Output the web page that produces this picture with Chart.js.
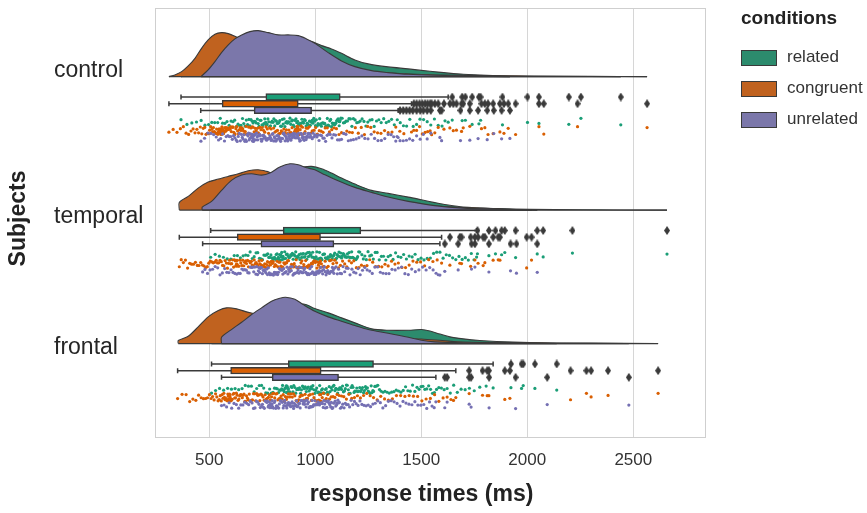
<!DOCTYPE html>
<html><head><meta charset="utf-8">
<script src="https://cdn.jsdelivr.net/npm/chart.js@4.4.1/dist/chart.umd.min.js"></script>
<style>html,body{margin:0;padding:0;background:#fff}#wrap{width:867px;height:513px;position:relative}</style>
</head><body><div id="wrap"><canvas id="c"></canvas></div>
<script>
// ---------------- DATA ----------------
const SUBJECTS = ['control', 'temporal', 'frontal'];
const CONDITIONS = ['related', 'congruent', 'unrelated'];
const X_TICKS = [500, 1000, 1500, 2000, 2500];

// half-violin density outlines: [response time (ms), relative density]
const V_CONTROL_RELATED = [[367,0],[450,3],[550,10],[650,22],[750,33],[850,39],[930,38],[983,35],[1030,31],[1077,27.7],[1124,23.3],[1187,16.7],[1250,12.7],[1344,9.7],[1439,7.7],[1541,5.3],[1619,3.7],[1698,2.3],[1808,1.2],[1918,0.6],[2150,0.3],[2441,0]];
const V_CONTROL_CONGRUENT = [[310,0],[338,1.7],[370,5],[401,10.7],[433,18.3],[464,28.3],[495,36.7],[527,42.3],[558,44],[590,43],[621,40.3],[653,36.7],[700,31],[800,22],[900,15],[1000,10],[1100,7],[1200,5],[1400,3],[1600,1.5],[2000,0.6],[2300,0.3],[2565,0]];
const V_CONTROL_UNRELATED = [[461,0],[495,6.7],[527,15],[558,24],[590,31.7],[621,37.7],[653,41.7],[692,45],[731,46],[778,44],[826,41.7],[873,41.7],[920,41],[959,37.7],[998,33.3],[1061,24],[1124,15.7],[1187,10],[1266,6],[1344,4],[1439,2.3],[1564,1.3],[1750,0.5],[1918,0]];
const V_TEMPORAL_RELATED = [[507,0],[507,2],[600,8],[700,18],[800,30],[880,40],[943,43],[983,43.7],[1030,41.3],[1077,37],[1124,32],[1187,26],[1266,19.7],[1344,16.7],[1439,13],[1501,10.3],[1564,7.5],[1619,5.3],[1698,3],[1855,1.5],[2012,0.7],[2248,0.3],[2659,0]];
const V_TEMPORAL_CONGRUENT = [[359,0],[359,7.7],[401,13.7],[448,22],[495,28],[543,31],[590,33.7],[637,36.3],[684,39.3],[731,40.3],[771,38.7],[794,37],[850,34],[950,29],[1050,23],[1150,17],[1250,12],[1350,8.5],[1450,6],[1600,3.5],[1800,1.8],[2020,0]];
const V_TEMPORAL_UNRELATED = [[467,0],[467,3],[511,8.7],[558,19.7],[605,29.7],[653,35],[700,36.3],[747,35],[786,37],[833,43],[881,46.3],[920,45.3],[959,42.3],[998,40.3],[1046,35.3],[1108,29.3],[1187,22.7],[1266,17.7],[1344,13],[1439,8.7],[1564,4.5],[1698,2],[1855,1],[2047,0]];
const V_FRONTAL_RELATED = [[511,0],[511,2],[600,6],[700,14],[800,24],[880,33],[943,39.5],[998,35],[1061,30.7],[1124,25.7],[1187,20.7],[1266,14.7],[1344,13.3],[1439,13.3],[1501,14],[1541,12.5],[1588,9.5],[1635,6.7],[1698,4.7],[1776,3],[1855,2],[2012,1],[2139,0]];
const V_FRONTAL_CONGRUENT = [[354,0],[354,3],[401,7.3],[448,16.7],[495,26.7],[543,33],[582,35.7],[629,34.7],[676,31.7],[716,29.7],[800,25],[900,19],[1000,14],[1100,10],[1200,7.5],[1300,6],[1400,5],[1500,4.5],[1600,3],[1700,1.5],[2000,0.8],[2300,0.5],[2617,0]];
const V_FRONTAL_UNRELATED = [[558,0],[558,6.3],[605,14],[653,21.3],[700,29],[747,35.7],[794,42.3],[833,45.3],[860,46.3],[904,44.3],[943,39],[998,32.3],[1061,26.7],[1124,22.3],[1187,18],[1250,14],[1344,10.3],[1439,6.3],[1501,3.3],[1564,1.7],[1700,0.8],[2000,0.4],[2479,0]];

// box statistics: [lower whisker, Q1, Q3, upper whisker] (ms)
const BOX_CONTROL_RELATED = [367, 767, 1118, 1627];
const BOX_CONTROL_CONGRUENT = [310, 561, 920, 1454];
const BOX_CONTROL_UNRELATED = [460, 712, 983, 1391];
const BOX_TEMPORAL_RELATED = [507, 849, 1215, 1761];
const BOX_TEMPORAL_CONGRUENT = [359, 632, 1025, 1596];
const BOX_TEMPORAL_UNRELATED = [469, 744, 1088, 1588];
const BOX_FRONTAL_RELATED = [511, 873, 1275, 1839];
const BOX_FRONTAL_CONGRUENT = [351, 601, 1028, 1663];
const BOX_FRONTAL_UNRELATED = [558, 797, 1110, 1569];

// outlying response times (ms)
const OUT_CONTROL_RELATED = [1646,1693,1708,1740,1772,1780,1883,2001,2055,2196,2253,2441];
const OUT_CONTROL_CONGRUENT = [1465,1478,1492,1505,1518,1530,1542,1549,1564,1580,1607,1635,1651,1666,1690,1698,1729,1784,1800,1815,1839,1871,1890,1910,1945,2055,2078,2237,2565];
const OUT_CONTROL_UNRELATED = [1400,1415,1430,1445,1460,1478,1495,1510,1528,1545,1588,1596,1685,1729,1768,1811,1842,1879,1918];
const OUT_TEMPORAL_RELATED = [1765,1819,1850,1879,1894,1945,2047,2075,2213,2659];
const OUT_TEMPORAL_CONGRUENT = [1635,1682,1690,1733,1753,1768,1792,1800,1839,1863,1871,1997,2020];
const OUT_TEMPORAL_UNRELATED = [1611,1674,1737,1753,1819,1921,1949,2047];
const OUT_FRONTAL_RELATED = [1923,1973,1981,2036,2139];
const OUT_FRONTAL_CONGRUENT = [1726,1789,1811,1819,1894,1918,2204,2279,2301,2381,2617];
const OUT_FRONTAL_UNRELATED = [1611,1622,1726,1735,1820,1945,2094,2479];

// remaining (non-outlying) trial response times (ms)
const RT_CONTROL_RELATED = [367,395,418,440,462,480,497,512,526,540,552,563,574,584,594,603,612,620,628,636,643,650,657,663,669,675,681,687,692,697,702,707,712,717,722,727,731,735,740,744,749,753,758,762,766,
769,773,777,781,785,789,793,797,801,805,809,813,817,821,825,829,833,837,841,845,849,853,857,861,865,869,873,877,881,885,889,893,897,901,905,909,913,917,921,925,929,933,937,941,945,949,953,957,961,965,969,973,977,981,985,989,993,997,1001,1005,1009,1013,1017,1021,1025,1029,1033,1037,1041,1045,1049,1053,1057,1061,1065,1069,1073,1077,1081,1085,1089,1093,1097,1101,1105,1108,1111,1113,1115,1117,
1121,1127,1133,1139,1145,1152,1159,1166,1173,1180,1188,1196,1204,1212,1221,1230,1239,1248,1258,1268,1278,1289,1300,1311,1323,1335,1347,1360,1373,1387,1401,1416,1431,1446,1462,1478,1494,1511,1528,1545,1562,1580,1598,1612,1627];
const RT_CONTROL_CONGRUENT = [310,330,348,364,378,391,403,414,424,433,442,450,458,465,472,479,485,491,497,502,507,512,516,520,524,528,532,535,538,541,544,547,549,551,553,555,556,557,558,559,560,560,561,561,561,
562,564,566,568,570,572,574,576,578,580,583,586,589,592,595,598,601,604,607,610,613,616,619,622,626,630,634,638,642,646,650,654,658,662,666,670,674,678,682,687,692,697,702,707,712,717,722,727,732,738,744,750,756,762,768,774,780,786,792,798,804,810,816,822,828,834,840,846,852,858,864,870,876,881,886,891,895,899,903,906,909,911,913,915,916,917,918,919,919,920,
924,929,934,940,946,952,958,965,972,979,986,994,1002,1010,1019,1028,1037,1047,1057,1067,1078,1089,1100,1112,1124,1136,1149,1162,1175,1189,1203,1217,1232,1247,1262,1278,1294,1310,1327,1344,1362,1380,1399,1418,1454];
const RT_CONTROL_UNRELATED = [461,478,494,508,521,533,544,554,563,572,580,588,595,602,609,615,621,627,632,637,642,647,652,656,660,664,668,672,676,680,683,686,689,692,695,698,700,702,704,706,707,708,709,710,711,
714,717,720,723,726,729,732,735,738,741,744,747,750,753,756,759,762,765,768,771,774,777,780,783,786,789,792,795,798,801,804,807,810,813,816,819,822,825,828,831,834,837,840,843,846,849,852,855,858,861,864,867,870,873,876,879,882,885,888,891,894,897,900,903,906,909,912,915,918,921,924,927,930,933,936,939,942,945,948,951,954,957,960,963,966,969,972,975,978,981,
986,990,994,998,1003,1008,1013,1018,1024,1030,1036,1042,1049,1056,1063,1071,1079,1087,1096,1105,1114,1124,1134,1145,1156,1168,1180,1193,1206,1220,1234,1249,1264,1280,1296,1312,1328,1344,1358,1370,1380,1386,1391];
const RT_TEMPORAL_RELATED = [507,528,548,567,585,602,618,633,647,660,672,683,693,703,712,721,729,737,744,751,758,764,770,776,781,786,791,796,800,804,808,812,816,820,823,826,829,832,835,838,840,842,844,846,848,
852,856,860,864,868,872,876,880,884,888,892,896,900,904,908,912,916,920,924,928,932,936,940,944,948,952,956,960,964,968,972,976,980,984,988,992,996,1000,1004,1008,1012,1016,1020,1024,1028,1032,1036,1040,1044,1048,1052,1056,1060,1064,1068,1072,1076,1080,1084,1088,1092,1096,1100,1104,1108,1112,1116,1120,1124,1128,1132,1136,1140,1144,1148,1152,1156,1160,1164,1168,1172,1176,1180,1184,1188,1192,1196,1200,1205,1210,
1220,1227,1234,1241,1249,1257,1265,1274,1283,1292,1302,1312,1322,1333,1344,1355,1367,1379,1391,1404,1417,1430,1443,1457,1471,1485,1499,1513,1528,1543,1558,1573,1588,1603,1618,1633,1648,1663,1678,1693,1708,1722,1736,1749,1761];
const RT_TEMPORAL_CONGRUENT = [359,368,378,388,398,408,417,426,435,444,452,460,468,476,484,491,498,505,512,519,526,533,539,545,551,557,563,569,575,581,586,591,596,601,606,611,615,619,623,626,628,629,630,631,632,
636,640,645,649,654,658,663,667,672,676,681,685,690,694,699,703,708,712,717,721,726,730,735,739,744,748,753,757,762,766,771,775,780,784,789,793,798,802,807,811,816,820,825,829,834,838,843,847,852,856,861,865,870,874,879,883,888,892,897,901,906,910,915,919,924,928,933,937,942,946,951,955,960,964,969,973,978,982,987,991,996,1000,1004,1008,1012,1015,1018,1021,1023,1025,
1029,1035,1041,1047,1054,1061,1068,1076,1084,1092,1101,1110,1119,1129,1139,1149,1160,1171,1182,1194,1206,1218,1231,1244,1257,1271,1285,1299,1314,1329,1344,1360,1376,1392,1409,1426,1443,1461,1479,1497,1516,1535,1555,1575,1596];
const RT_TEMPORAL_UNRELATED = [469,480,492,504,516,528,540,551,562,573,583,593,603,612,621,630,638,646,654,661,668,675,682,688,694,700,705,710,715,720,724,728,732,735,738,741,743,
747,751,755,759,763,767,771,775,779,783,787,791,795,799,803,807,811,815,819,823,827,831,835,839,843,847,851,855,859,863,867,871,875,879,883,887,891,895,899,903,907,911,915,919,923,927,931,935,939,943,947,951,955,959,963,967,971,975,979,983,987,991,995,999,1003,1007,1011,1015,1019,1023,1027,1031,1035,1039,1043,1047,1051,1055,1059,1063,1067,1071,1075,1078,1081,1084,1086,1088,
1092,1098,1104,1110,1117,1124,1131,1139,1147,1155,1164,1173,1182,1192,1202,1212,1223,1234,1245,1257,1269,1281,1294,1307,1320,1334,1348,1362,1377,1392,1407,1423,1439,1455,1472,1489,1506,1523,1540,1556,1570,1580,1588];
const RT_FRONTAL_RELATED = [511,530,549,568,587,605,622,639,655,670,685,699,712,724,736,747,757,767,776,785,793,801,808,815,821,827,832,837,842,846,850,854,857,860,863,865,867,869,870,871,872,873,
877,881,886,890,895,899,904,908,913,917,922,926,931,935,940,944,949,953,958,962,967,971,976,980,985,989,994,998,1003,1007,1012,1016,1021,1025,1030,1034,1039,1043,1048,1052,1057,1061,1066,1070,1075,1079,1084,1088,1093,1097,1102,1106,1111,1115,1120,1124,1129,1133,1138,1142,1147,1151,1156,1160,1165,1169,1174,1178,1183,1187,1192,1196,1201,1205,1210,1214,1219,1223,1228,1232,1237,1241,1246,1250,1255,1259,1264,1268,1272,1275,
1281,1288,1295,1303,1311,1320,1329,1339,1349,1360,1371,1382,1393,1404,1415,1426,1437,1448,1459,1470,1480,1490,1499,1508,1517,1526,1535,1544,1553,1562,1572,1583,1595,1608,1622,1637,1653,1670,1688,1707,1727,1750,1776,1806,1839];
const RT_FRONTAL_CONGRUENT = [351,372,391,408,423,437,450,462,473,483,492,501,509,516,523,530,536,542,547,552,557,561,565,569,572,575,578,581,584,586,588,590,592,594,595,596,597,598,599,600,601,
604,608,612,616,620,624,628,632,636,640,644,648,652,656,660,664,668,672,676,680,684,689,694,699,704,709,714,719,724,729,734,739,744,749,754,759,764,769,774,779,784,789,794,799,804,809,814,819,824,829,834,839,844,849,854,859,864,869,874,880,886,892,898,904,910,916,922,928,934,940,946,952,958,964,970,976,982,988,994,1000,1006,1012,1017,1021,1024,1026,1028,
1033,1039,1045,1052,1059,1067,1075,1084,1093,1103,1113,1124,1135,1147,1159,1172,1185,1199,1213,1228,1243,1259,1275,1292,1309,1327,1345,1364,1383,1403,1423,1443,1463,1483,1503,1523,1543,1563,1583,1603,1622,1640,1652,1663];
const RT_FRONTAL_UNRELATED = [558,570,582,594,606,617,628,639,649,659,668,677,686,694,702,709,716,723,729,735,741,746,751,756,760,764,768,772,775,778,781,784,786,788,790,792,793,794,795,796,797,
800,803,807,810,814,817,821,824,828,831,835,838,842,845,849,852,856,859,863,866,870,873,877,880,884,887,891,894,898,901,905,908,912,915,919,922,926,929,933,936,940,943,947,950,954,957,961,964,968,971,975,978,982,985,989,992,996,999,1003,1006,1010,1013,1017,1020,1024,1027,1031,1034,1038,1041,1045,1048,1052,1055,1059,1062,1066,1069,1073,1076,1080,1083,1087,1090,1094,1097,1101,1104,1107,1110,
1114,1119,1124,1130,1136,1142,1148,1155,1162,1169,1177,1185,1193,1202,1211,1220,1230,1240,1250,1261,1272,1283,1295,1307,1319,1332,1345,1358,1372,1386,1400,1414,1428,1442,1456,1470,1484,1498,1512,1526,1539,1551,1561,1569];

// ---------------- LAYOUT / STYLE ----------------
const FONT = "'Liberation Sans', Arial, Helvetica, sans-serif";
const DARK = '#3a3a3a';
const VIOLIN_COLORS = ['#2c8b6d', '#c0621f', '#7b77aa'];
const BOX_COLORS = ['#1b9e77', '#d95f02', '#7570b3'];
const X_RANGE = [242, 2841];
const Y_RANGE = [-0.717, 2.497];
const LABEL_POS = [-0.249, 0.845, 1.826];
const VIOLIN_BASE = -0.203;
const DENSITY_TO_AXIS = 1 / 133.5;
const BOX_OFFSETS = [-0.05, 0, 0.05];
const STRIP_OFFSETS = [0.14, 0.2, 0.252];
const JITTER = 0.032;

const violins = [[V_CONTROL_RELATED, V_CONTROL_CONGRUENT, V_CONTROL_UNRELATED],[V_TEMPORAL_RELATED, V_TEMPORAL_CONGRUENT, V_TEMPORAL_UNRELATED],[V_FRONTAL_RELATED, V_FRONTAL_CONGRUENT, V_FRONTAL_UNRELATED]];
const boxes = [[BOX_CONTROL_RELATED, BOX_CONTROL_CONGRUENT, BOX_CONTROL_UNRELATED],[BOX_TEMPORAL_RELATED, BOX_TEMPORAL_CONGRUENT, BOX_TEMPORAL_UNRELATED],[BOX_FRONTAL_RELATED, BOX_FRONTAL_CONGRUENT, BOX_FRONTAL_UNRELATED]];
const outs = [[OUT_CONTROL_RELATED, OUT_CONTROL_CONGRUENT, OUT_CONTROL_UNRELATED],[OUT_TEMPORAL_RELATED, OUT_TEMPORAL_CONGRUENT, OUT_TEMPORAL_UNRELATED],[OUT_FRONTAL_RELATED, OUT_FRONTAL_CONGRUENT, OUT_FRONTAL_UNRELATED]];
const rts = [[RT_CONTROL_RELATED, RT_CONTROL_CONGRUENT, RT_CONTROL_UNRELATED],[RT_TEMPORAL_RELATED, RT_TEMPORAL_CONGRUENT, RT_TEMPORAL_UNRELATED],[RT_FRONTAL_RELATED, RT_FRONTAL_CONGRUENT, RT_FRONTAL_UNRELATED]];

function makeDiamond(w, h, color) {
  const c = document.createElement('canvas'); c.width = w; c.height = h;
  const g = c.getContext('2d'); g.fillStyle = color;
  g.beginPath(); g.moveTo(w/2, 0); g.lineTo(w, h/2); g.lineTo(w/2, h); g.lineTo(0, h/2); g.closePath(); g.fill();
  return c;
}
const DIAMOND = makeDiamond(6, 9, '#3a3a3a');
// deterministic vertical jitter (hash of the point index), layout only
const jit = i => { const s = Math.sin(i * 12.9898 + 78.233) * 43758.5453; return ((s - Math.floor(s)) * 2 - 1) * JITTER; };

const datasets = [];
const barData = [], barColors = [];
for (let c = 0; c < 3; c++) {
  for (let h = 0; h < 3; h++) {
    const base = c + VIOLIN_BASE;
    const pts = violins[c][h].map(([v, d]) => ({x: v, y: base - d * DENSITY_TO_AXIS}));
    datasets.push({type: 'line', data: pts, fill: {value: base}, backgroundColor: VIOLIN_COLORS[h],
      borderColor: DARK, borderWidth: 1.1, pointRadius: 0, tension: 0.3, order: 40 - h});
    datasets.push({type: 'line', data: [{x: pts[0].x, y: base}, {x: pts[pts.length-1].x, y: base}],
      borderColor: DARK, borderWidth: 1.3, pointRadius: 0, fill: false, order: 30});
    const [lo, q1, q3, hi] = boxes[c][h];
    const yb = c + BOX_OFFSETS[h];
    datasets.push({type: 'line', data: [{x: lo, y: yb}, {x: hi, y: yb}], borderColor: DARK, borderWidth: 1.5,
      pointStyle: 'line', pointRotation: 90, pointRadius: 2.5, pointBorderColor: DARK, pointBorderWidth: 1.5,
      pointBackgroundColor: DARK, fill: false, order: 21});
    barData.push({x: [q1, q3], y: yb}); barColors.push(BOX_COLORS[h]);
    const all = rts[c][h].concat(outs[c][h]);
    datasets.push({type: 'scatter', data: all.map((v, i) => ({x: v, y: c + STRIP_OFFSETS[h] + jit(i + 400 * h + 1300 * c)})),
      pointRadius: 1.6, pointBackgroundColor: BOX_COLORS[h], pointBorderWidth: 0, order: 10 - h});
    datasets.push({type: 'scatter', data: outs[c][h].map(v => ({x: v, y: yb})), pointStyle: DIAMOND, pointRadius: 4, order: 1});
  }
}
datasets.push({type: 'bar', indexAxis: 'y', data: barData, backgroundColor: barColors, borderColor: DARK,
  borderWidth: 1.5, borderSkipped: false, barThickness: 6.7, xAxisID: 'x', yAxisID: 'y', order: 15});

const decor = {
  id: 'decor',
  beforeDatasetsDraw(chart) {
    const {ctx, chartArea: a} = chart;
    ctx.save(); ctx.strokeStyle = '#cfcfcf'; ctx.lineWidth = 1;
    ctx.strokeRect(Math.round(a.left) + 0.5, Math.round(a.top) + 0.5, Math.round(a.right - a.left) - 1, Math.round(a.bottom - a.top));
    ctx.restore();
  },
  afterDraw(chart) {
    const ctx = chart.ctx;
    ctx.save();
    ctx.fillStyle = '#222';
    ctx.font = 'bold 23px ' + FONT; ctx.textAlign = 'center'; ctx.textBaseline = 'middle';
    ctx.fillText('response times (ms)', 421.5, 495);
    ctx.save(); ctx.translate(19, 218.5); ctx.rotate(-Math.PI / 2); ctx.fillText('Subjects', 0, 0); ctx.restore();
    // legend
    ctx.textAlign = 'left';
    ctx.font = 'bold 19px ' + FONT; ctx.fillText('conditions', 741, 19);
    ctx.font = '17px ' + FONT; ctx.fillStyle = '#333';
    for (let h = 0; h < 3; h++) {
      const y = 50 + h * 31;
      ctx.fillStyle = VIOLIN_COLORS[h]; ctx.fillRect(741, y, 36, 15.5);
      ctx.strokeStyle = DARK; ctx.lineWidth = 1; ctx.strokeRect(741.5, y + 0.5, 35, 15);
      ctx.fillStyle = '#333'; ctx.fillText(CONDITIONS[h], 787, y + 7.5);
    }
    ctx.restore();
  }
};

new Chart(document.getElementById('c'), {
  type: 'scatter',
  data: {datasets},
  options: {
    responsive: true, maintainAspectRatio: false, animation: false,
    layout: {padding: {left: 54, right: 161.4, top: 8, bottom: 0}},
    plugins: {legend: {display: false}, tooltip: {enabled: false}},
    scales: {
      x: {type: 'linear', position: 'bottom', min: X_RANGE[0], max: X_RANGE[1], beginAtZero: false,
        afterBuildTicks: s => { s.ticks = X_TICKS.map(v => ({value: v})); },
        afterFit: s => { s.height = 76; s.paddingLeft = 0; s.paddingRight = 0; },
        grid: {color: '#d6d6d6', lineWidth: 1, drawTicks: false}, border: {display: false},
        ticks: {font: {size: 17, family: FONT}, color: '#333', padding: 13, maxRotation: 0, callback: v => String(v)}},
      y: {type: 'linear', position: 'left', reverse: true, min: Y_RANGE[0], max: Y_RANGE[1], offset: false, beginAtZero: false,
        afterBuildTicks: s => { s.ticks = LABEL_POS.map(v => ({value: v})); },
        afterFit: s => { s.width = 100.5; s.paddingTop = 0; s.paddingBottom = 0; },
        grid: {display: false, drawTicks: false, offset: false}, border: {display: false},
        ticks: {crossAlign: 'far', autoSkip: false, font: {size: 23, family: FONT}, color: '#262626',
          callback: (v, i) => SUBJECTS[i]}}
    }
  },
  plugins: [decor]
});
</script></body></html>
